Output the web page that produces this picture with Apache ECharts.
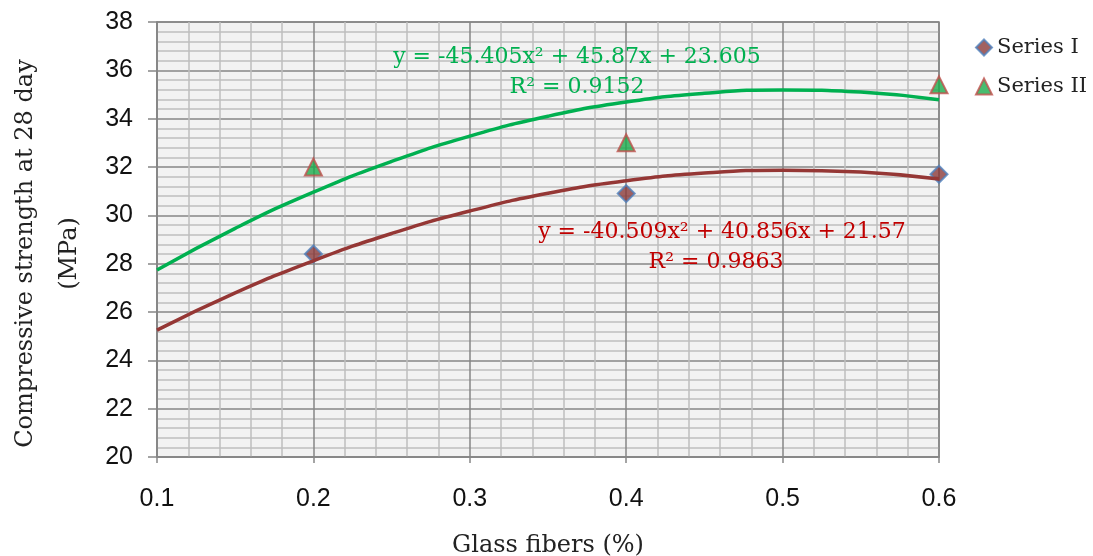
<!DOCTYPE html>
<html>
<head>
<meta charset="utf-8">
<script src="https://cdn.jsdelivr.net/npm/echarts@6/dist/echarts.min.js"></script>
<style>
html, body { margin: 0; padding: 0; background: #fff; }
#chart { width: 1093px; height: 556px; }
</style>
</head>
<body>
<div id="chart"></div>
<script>
// measured points
var fiberX = [0.2, 0.4, 0.6];
var seriesI = [28.4, 30.9, 31.7];
var seriesII = [32.0, 33.0, 35.4];

// trendline curves
var trendX = [0.1, 0.15, 0.2, 0.25, 0.3, 0.35, 0.4, 0.45, 0.5, 0.55, 0.6];
var trendI = [25.25, 26.79, 28.12, 29.25, 30.18, 30.91, 31.43, 31.75, 31.87, 31.79, 31.50];
var trendII = [27.74, 29.46, 30.96, 32.23, 33.28, 34.10, 34.69, 35.05, 35.19, 35.10, 34.78];

var eqI = ['y = -40.509x\u00b2 + 40.856x + 21.57', 'R\u00b2 = 0.9863'];
var eqII = ['y = -45.405x\u00b2 + 45.87x + 23.605', 'R\u00b2 = 0.9152'];

function pairs(xs, ys) {
	return xs.map(function (x, i) { return [x, ys[i]]; });
}

var serif = 'DejaVu Serif';
var eqFont = '22px "DejaVu Serif"';
var myChart = echarts.init(document.getElementById('chart'));

var option = {
	backgroundColor: '#ffffff',
	animation: false,
	grid: {
		left: 157,
		right: 154,
		top: 22,
		bottom: 99,
		outerBoundsMode: 'none',
		containLabel: false,
		show: true,
		backgroundColor: '#f2f2f2',
		borderColor: '#868686',
		borderWidth: 1.5
	},
	legend: {
		data: ['Series I', 'Series II'],
		orient: 'vertical',
		left: 970,
		top: 32,
		itemGap: 18,
		itemWidth: 16,
		itemHeight: 16,
		textStyle: { fontFamily: serif, fontSize: 21, color: '#222' }
	},
	xAxis: {
		type: 'value',
		min: 0.1,
		max: 0.6,
		interval: 0.1,
		name: 'Glass fibers (%)',
		nameLocation: 'middle',
		nameGap: 77,
		nameTextStyle: { fontFamily: serif, fontSize: 24, color: '#222' },
		axisLine: { lineStyle: { color: '#868686', width: 1.5 } },
		axisTick: { show: true, length: 6, lineStyle: { color: '#868686', width: 1.5 } },
		axisLabel: {
			margin: 30,
			fontFamily: 'Liberation Sans',
			fontSize: 25,
			color: '#111',
			formatter: function (v) { return v.toFixed(1); }
		},
		splitLine: { show: true, lineStyle: { color: '#868686', width: 1.5 } },
		minorTick: { show: false, splitNumber: 5 },
		minorSplitLine: { show: true, lineStyle: { color: '#bfbfbf', width: 1.5 } }
	},
	yAxis: {
		type: 'value',
		min: 20,
		max: 38,
		interval: 2,
		name: 'Compressive strength at 28 day\n(MPa)',
		nameLocation: 'middle',
		nameGap: 65,
		nameTextStyle: { fontFamily: serif, fontSize: 24, color: '#222', lineHeight: 44, padding: [0, 28, 0, 0] },
		axisLine: { show: true, lineStyle: { color: '#868686', width: 1.5 } },
		axisTick: { show: true, length: 9, lineStyle: { color: '#868686', width: 1.5 } },
		axisLabel: {
			margin: 24,
			fontFamily: 'Liberation Sans',
			fontSize: 25,
			color: '#111'
		},
		splitLine: { show: true, lineStyle: { color: '#868686', width: 1.5 } },
		minorTick: { show: false, splitNumber: 5 },
		minorSplitLine: { show: true, lineStyle: { color: '#bfbfbf', width: 1.5 } }
	},
	graphic: [
		{ type: 'text', x: 577, y: 57, z: 10, style: { text: eqII[0], fill: '#00b050', font: eqFont, align: 'center', verticalAlign: 'middle' } },
		{ type: 'text', x: 577, y: 87, z: 10, style: { text: eqII[1], fill: '#00b050', font: eqFont, align: 'center', verticalAlign: 'middle' } },
		{ type: 'text', x: 722, y: 232, z: 10, style: { text: eqI[0], fill: '#c00000', font: eqFont, align: 'center', verticalAlign: 'middle' } },
		{ type: 'text', x: 716, y: 262, z: 10, style: { text: eqI[1], fill: '#c00000', font: eqFont, align: 'center', verticalAlign: 'middle' } }
	],
	series: [
		{
			name: 'Series I',
			type: 'scatter',
			symbol: 'diamond',
			symbolSize: 17,
			z: 3,
			clip: false,
			itemStyle: { color: '#8b3a3a', borderColor: '#4f81bd', borderWidth: 2 },
			data: pairs(fiberX, seriesI)
		},
		{
			name: 'Series II',
			type: 'scatter',
			symbol: 'triangle',
			symbolSize: 17,
			z: 3,
			clip: false,
			itemStyle: { color: '#1aab4b', borderColor: '#c0504d', borderWidth: 2 },
			data: pairs(fiberX, seriesII)
		},
		{
			name: 'Trend I',
			type: 'line',
			smooth: 0.5,
			showSymbol: false,
			z: 4,
			lineStyle: { color: '#953735', width: 3.5 },
			data: pairs(trendX, trendI)
		},
		{
			name: 'Trend II',
			type: 'line',
			smooth: 0.5,
			showSymbol: false,
			z: 4,
			lineStyle: { color: '#00b050', width: 3.5 },
			data: pairs(trendX, trendII)
		}
	]
};
myChart.setOption(option);
</script>
</body>
</html>
